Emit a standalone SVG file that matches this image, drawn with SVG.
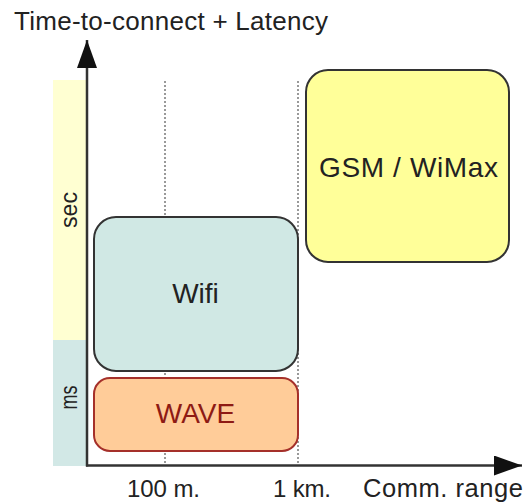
<svg xmlns="http://www.w3.org/2000/svg" width="526" height="503" viewBox="0 0 526 503">
  <defs>
    <style>
      text { font-family: "Liberation Sans", Arial, sans-serif; fill: #222; }
      .axis { stroke: #333; stroke-width: 2.5; fill: none; }
      .grid { stroke: #999; stroke-width: 2; stroke-dasharray: 2 2; fill: none; }
      .box { stroke: #333; stroke-width: 2; }
      .label { font-size: 28px; text-anchor: middle; }
      .tick { font-size: 24px; }
      .band { font-size: 24px; }
    </style>
    <marker id="arrow" markerUnits="userSpaceOnUse" markerWidth="28" markerHeight="20"
            refX="28" refY="10" orient="auto">
      <path d="M0,0 L28,10 L0,20 Z" fill="#111"/>
    </marker>
  </defs>

  <rect width="526" height="503" fill="#fff"/>

  <!-- latency bands along the vertical axis -->
  <g id="band-sec">
    <rect x="53" y="80" width="33" height="260" fill="#ffffd2"/>
    <text class="band" transform="translate(77,210) rotate(-90)" text-anchor="middle"
          textLength="36" lengthAdjust="spacingAndGlyphs">sec</text>
  </g>
  <g id="band-ms">
    <rect x="53" y="340" width="33" height="126" fill="#d2e8e6"/>
    <text class="band" transform="translate(77,397.5) rotate(-90)" text-anchor="middle"
          textLength="24" lengthAdjust="spacingAndGlyphs">ms</text>
  </g>

  <!-- range guides -->
  <g id="guides">
    <line class="grid" x1="165" y1="81" x2="165" y2="465"/>
    <line class="grid" x1="298" y1="81" x2="298" y2="465"/>
  </g>

  <!-- technologies -->
  <g id="gsm">
    <rect class="box" x="306" y="70" width="203" height="192" rx="22" fill="#ffff99"/>
    <text class="label" x="408.5" y="177" textLength="179" lengthAdjust="spacing">GSM / WiMax</text>
  </g>
  <g id="wifi">
    <rect class="box" x="94" y="217" width="204" height="154" rx="22" fill="#d0e8e4"/>
    <text class="label" x="195.5" y="303">Wifi</text>
  </g>
  <g id="wave">
    <rect x="94" y="378" width="204" height="73" rx="16" fill="#ffcc99" stroke="#a5302a" stroke-width="2"/>
    <text class="label" x="195.5" y="423" style="fill:#8e1a14">WAVE</text>
  </g>

  <!-- axes -->
  <g id="connectors">
    <line class="axis" x1="87" y1="466.5" x2="87" y2="40" marker-end="url(#arrow)"/>
    <line class="axis" x1="86" y1="465.5" x2="522" y2="465.5" marker-end="url(#arrow)"/>
  </g>

  <!-- axis titles and ticks -->
  <g id="axis-labels">
    <text x="14" y="30" font-size="26" textLength="314" lengthAdjust="spacing">Time-to-connect + Latency</text>
    <text class="tick" x="127" y="497" textLength="73" lengthAdjust="spacing">100 m.</text>
    <text class="tick" x="273" y="497" textLength="58" lengthAdjust="spacing">1 km.</text>
    <text class="tick" x="363" y="497" font-size="25.5" style="font-size:25.5px" textLength="160" lengthAdjust="spacing">Comm. range</text>
  </g>
</svg>
